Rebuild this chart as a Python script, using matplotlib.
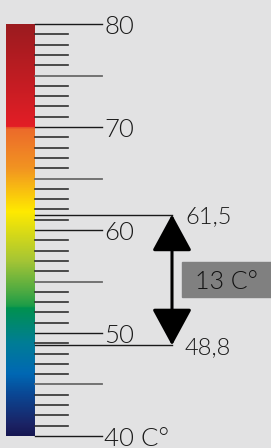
import numpy as np
import matplotlib
matplotlib.use('Agg')
import matplotlib.pyplot as plt
from matplotlib.colors import LinearSegmentedColormap
from matplotlib.patches import FancyArrowPatch, Rectangle

# scale data
T_MIN, T_MAX = 40, 80
LABEL_TEMPS = [40, 50, 60, 70, 80]
LABEL_TEXTS = ['40 C°', '50', '60', '70', '80']
MARK_HIGH = 61.5
MARK_LOW = 48.8
MARK_TEXTS = ['61,5', '48,8']
DELTA_TEXT = '13 C°'

# gradient stops (temperature, colour)
GRAD_TEMPS = [40, 41, 44, 46, 49, 52.4, 52.6, 54, 57, 61.8, 66, 69.9, 70.1, 80]
GRAD_COLORS = ['#161752', '#1b2264', '#0a4794', '#0068b4', '#007d96', '#00914f',
               '#1c9c48', '#4caa42', '#a5c535', '#ffea00', '#f29421', '#ec6a2b',
               '#e31e26', '#9b1b1f']

BG = '#e2e2e3'
TXT = '#1a1a1a'

fig = plt.figure(figsize=(2.71, 4.48), dpi=100, facecolor=BG)
ax = fig.add_axes([0, 0, 1, 1])
ax.set_facecolor(BG)

px_per_deg = 10.3
top_px = 24
ax.set_xlim(0, 271)
ax.set_ylim(T_MAX - (448 - top_px) / px_per_deg, T_MAX + top_px / px_per_deg)
ax.axis('off')

stops = [(t - T_MIN) / (T_MAX - T_MIN) for t in GRAD_TEMPS]
cmap = LinearSegmentedColormap.from_list('therm', list(zip(stops, GRAD_COLORS)))
grad = np.linspace(0, 1, 512).reshape(-1, 1)
ax.imshow(grad, cmap=cmap, origin='lower', extent=[6, 35, T_MIN, T_MAX],
          aspect='auto', interpolation='bilinear', zorder=1)

# ticks
for t in range(T_MIN, T_MAX + 1):
    if t % 10 == 0:
        ax.plot([35, 102], [t, t], color='#1a1a1a', lw=1.0, zorder=2)
    elif t % 5 == 0:
        ax.plot([35, 102], [t, t], color='#6a6a6a', lw=1.3, zorder=2)
    else:
        ax.plot([35, 68], [t, t], color='#303030', lw=1.2, zorder=2)

font = dict(family=['Lato', 'DejaVu Sans'], weight=300)
for t, s in zip(LABEL_TEMPS, LABEL_TEXTS):
    ax.text(104, t, s, fontsize=18.5, color=TXT, va='center_baseline', ha='left', **font)

# marker lines
arrow_x = 172
for t, s in zip([MARK_HIGH, MARK_LOW], MARK_TEXTS):
    ax.plot([35, arrow_x], [t, t], color='#1a1a1a', lw=1.0, zorder=3)
    ax.text(185, t, s, fontsize=17, color=TXT, va='center_baseline', ha='left', **font)

arrow = FancyArrowPatch((arrow_x, MARK_LOW), (arrow_x, MARK_HIGH),
                        arrowstyle='<|-|>,head_length=23,head_width=12.5',
                        mutation_scale=1, lw=2.2, color='black',
                        shrinkA=0, shrinkB=0, zorder=4)
ax.add_patch(arrow)

# delta box
mid = (MARK_HIGH + MARK_LOW) / 2
box_h = 35 / px_per_deg
ax.add_patch(Rectangle((182, mid - box_h / 2), 100, box_h, color='#808080', zorder=3))
ax.text(195, mid, DELTA_TEXT, fontsize=18, color='#111111', va='center_baseline',
        ha='left', zorder=5, **font)

fig.savefig('out.png', dpi=100, facecolor=BG)
